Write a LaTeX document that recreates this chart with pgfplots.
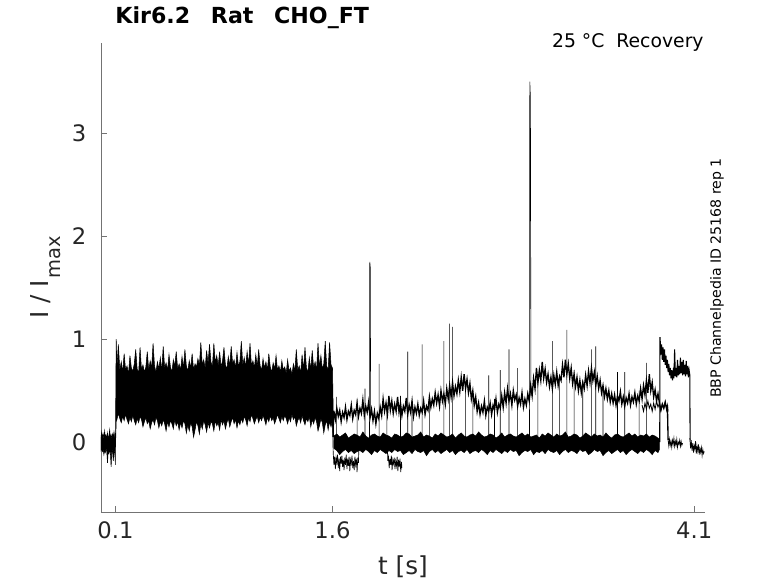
\documentclass[border=0pt]{standalone}
\usepackage{pgfplots}
\pgfplotsset{compat=1.18}
\usepackage{fontspec}
\setmainfont{DejaVu Sans}
\definecolor{axgray}{gray}{0.45}
\definecolor{tickgray}{gray}{0.15}
\begin{document}
\begin{tikzpicture}
\begin{axis}[
  name=ax, at={(0,0)}, anchor=south west,
  scale only axis, width=453pt, height=351.75pt,
  xmin=0, xmax=4.175, ymin=-0.677, ymax=3.874,
  axis lines=left, axis line style={-, draw=axgray, line width=0.6pt},
  tick align=inside, major tick length=4.7pt,
  tick style={draw=axgray, line width=0.6pt},
  xtick={0.1,1.6,4.1}, xticklabels={0.1,1.6,4.1},
  ytick={0,1,2,3}, yticklabels={0,1,2,3},
  ticklabel style={font=\fontsize{17}{17}\selectfont, text=tickgray},
  xticklabel style={yshift=-4pt},
  yticklabel style={xshift=-7.5pt},
  xlabel={t [s]},
  ylabel={I / I\kern1.5pt\raisebox{-9.5pt}{\fontsize{14.6}{14.6}\selectfont max}},
  xlabel style={at={(axis description cs:0.5,-0.1343)}, anchor=base, font=\fontsize{18.5}{18.5}\selectfont, text=tickgray},
  ylabel style={at={(axis description cs:-0.0877,0.5)}, anchor=base, font=\fontsize{18.5}{18.5}\selectfont, text=tickgray},
  title={Kir6.2\hspace{15.5pt}Rat\hspace{15.5pt}CHO\_FT},
  title style={at={(axis description cs:0.0161,1.0245)}, anchor=base west, font=\bfseries\fontsize{16.6}{16.6}\selectfont},
  clip mode=individual,
  unbounded coords=jump,
]
% pre-pulse baseline
\addplot[fill=black, draw=black, line width=0.4pt] coordinates {
(0.000,0.05)(0.005,0.10)(0.010,0.04)(0.015,0.08)(0.020,0.03)(0.025,0.11)(0.030,0.05)(0.035,0.07)(0.040,0.02)(0.045,0.09)(0.050,0.04)(0.055,0.06)(0.060,0.12)(0.065,0.04)(0.070,0.07)(0.075,0.03)(0.080,0.08)(0.085,0.05)(0.090,0.10)(0.095,0.04)(0.100,0.06)
(0.100,-0.22)(0.095,-0.10)(0.090,-0.08)(0.085,-0.18)(0.080,-0.09)(0.075,-0.07)(0.070,-0.24)(0.065,-0.10)(0.060,-0.08)(0.055,-0.11)(0.050,-0.07)(0.045,-0.20)(0.040,-0.09)(0.035,-0.06)(0.030,-0.10)(0.025,-0.08)(0.020,-0.12)(0.015,-0.07)(0.010,-0.09)(0.005,-0.06)(0.000,-0.08)
} -- cycle;
% open band 0.1 - 1.6 s
\addplot[fill=black, draw=black, line width=0.4pt] coordinates {
(0.100,0.02)(0.105,1.00)(0.11,0.72)(0.12,0.95)(0.13,0.70)(0.14,0.78)(0.15,0.68)(0.16,0.86)(0.17,0.70)(0.18,0.74)(0.19,0.66)(0.20,0.84)
(0.21,0.72)(0.22,0.69)(0.23,0.76)(0.24,0.90)(0.25,0.71)(0.26,0.67)(0.27,0.92)(0.28,0.70)(0.29,0.75)(0.30,0.68)
(0.31,0.73)(0.32,0.88)(0.33,0.70)(0.34,0.79)(0.35,0.72)(0.36,0.96)(0.37,0.74)(0.38,0.68)(0.39,0.78)(0.40,0.71)
(0.41,0.82)(0.42,0.69)(0.43,0.93)(0.44,0.72)(0.45,0.77)(0.46,0.70)(0.47,0.85)(0.48,0.73)(0.49,0.68)(0.50,0.80)
(0.51,0.74)(0.52,0.88)(0.53,0.71)(0.54,0.76)(0.55,0.70)(0.56,0.83)(0.57,0.72)(0.58,0.90)(0.59,0.74)(0.60,0.69)
(0.61,0.79)(0.62,0.72)(0.63,0.86)(0.64,0.70)(0.65,0.76)(0.66,0.73)(0.67,0.81)(0.68,0.74)(0.69,0.97)(0.70,0.75)
(0.71,0.80)(0.72,0.72)(0.73,0.89)(0.74,0.76)(0.75,0.95)(0.76,0.78)(0.77,0.73)(0.78,0.96)(0.79,0.77)(0.80,0.84)
(0.81,0.74)(0.82,0.88)(0.83,0.73)(0.84,0.79)(0.85,0.92)(0.86,0.75)(0.87,0.71)(0.88,0.83)(0.89,0.74)(0.90,0.93)
(0.91,0.76)(0.92,0.80)(0.93,0.72)(0.94,0.87)(0.95,0.74)(0.96,0.78)(0.97,0.98)(0.98,0.75)(0.99,0.82)(1.00,0.73)
(1.01,0.88)(1.02,0.75)(1.03,0.96)(1.04,0.74)(1.05,0.79)(1.06,0.72)(1.07,0.85)(1.08,0.73)(1.09,0.90)(1.10,0.74)
(1.11,0.70)(1.12,0.81)(1.13,0.72)(1.14,0.78)(1.15,0.70)(1.16,0.86)(1.17,0.73)(1.18,0.68)(1.19,0.77)(1.20,0.71)
(1.21,0.84)(1.22,0.70)(1.23,0.74)(1.24,0.68)(1.25,0.79)(1.26,0.70)(1.27,0.73)(1.28,0.67)(1.29,0.80)(1.30,0.69)
(1.31,0.72)(1.32,0.66)(1.33,0.76)(1.34,0.69)(1.35,0.90)(1.36,0.70)(1.37,0.74)(1.38,0.67)(1.39,0.85)(1.40,0.70)
(1.41,0.92)(1.42,0.72)(1.43,0.68)(1.44,0.82)(1.45,0.70)(1.46,0.89)(1.47,0.72)(1.48,0.78)(1.49,0.70)(1.50,0.96)
(1.51,0.73)(1.52,0.84)(1.53,0.71)(1.54,0.76)(1.55,0.98)(1.56,0.74)(1.57,0.70)(1.58,0.97)(1.59,0.75)(1.60,0.72)
(1.605,0.30)(1.605,0.05)
(1.60,0.22)(1.59,0.15)(1.58,0.20)(1.57,0.12)(1.56,0.21)(1.55,0.17)(1.54,0.09)(1.53,0.19)(1.52,0.23)(1.51,0.16)
(1.50,0.11)(1.49,0.20)(1.48,0.24)(1.47,0.18)(1.46,0.22)(1.45,0.15)(1.44,0.25)(1.43,0.20)(1.42,0.23)(1.41,0.17)
(1.40,0.21)(1.39,0.26)(1.38,0.19)(1.37,0.24)(1.36,0.21)(1.35,0.16)(1.34,0.25)(1.33,0.22)(1.32,0.27)(1.31,0.20)
(1.30,0.24)(1.29,0.18)(1.28,0.23)(1.27,0.26)(1.26,0.21)(1.25,0.25)(1.24,0.19)(1.23,0.23)(1.22,0.27)(1.21,0.22)
(1.20,0.18)(1.19,0.24)(1.18,0.21)(1.17,0.26)(1.16,0.20)(1.15,0.24)(1.14,0.17)(1.13,0.22)(1.12,0.26)(1.11,0.21)
(1.10,0.24)(1.09,0.19)(1.08,0.25)(1.07,0.22)(1.06,0.18)(1.05,0.23)(1.04,0.27)(1.03,0.20)(1.02,0.24)(1.01,0.16)
(1.00,0.22)(0.99,0.25)(0.98,0.19)(0.97,0.23)(0.96,0.17)(0.95,0.21)(0.94,0.14)(0.93,0.22)(0.92,0.18)(0.91,0.24)
(0.90,0.20)(0.89,0.15)(0.88,0.23)(0.87,0.19)(0.86,0.13)(0.85,0.21)(0.84,0.17)(0.83,0.22)(0.82,0.12)(0.81,0.19)
(0.80,0.16)(0.79,0.21)(0.78,0.11)(0.77,0.18)(0.76,0.20)(0.75,0.14)(0.74,0.19)(0.73,0.10)(0.72,0.17)(0.71,0.21)
(0.70,0.13)(0.69,0.18)(0.68,0.08)(0.67,0.16)(0.66,0.20)(0.65,0.12)(0.64,0.05)(0.63,0.15)(0.62,0.19)(0.61,0.11)
(0.60,0.17)(0.59,0.09)(0.58,0.18)(0.57,0.21)(0.56,0.14)(0.55,0.19)(0.54,0.12)(0.53,0.20)(0.52,0.16)(0.51,0.22)
(0.50,0.13)(0.49,0.18)(0.48,0.21)(0.47,0.15)(0.46,0.20)(0.45,0.11)(0.44,0.18)(0.43,0.22)(0.42,0.16)(0.41,0.20)
(0.40,0.14)(0.39,0.21)(0.38,0.24)(0.37,0.17)(0.36,0.22)(0.35,0.19)(0.34,0.13)(0.33,0.21)(0.32,0.18)(0.31,0.24)
(0.30,0.20)(0.29,0.15)(0.28,0.22)(0.27,0.25)(0.26,0.19)(0.25,0.23)(0.24,0.17)(0.23,0.21)(0.22,0.26)(0.21,0.20)
(0.20,0.24)(0.19,0.18)(0.18,0.22)(0.17,0.27)(0.16,0.21)(0.15,0.25)(0.14,0.19)(0.13,0.23)(0.12,0.28)(0.11,0.22)
(0.105,0.20)(0.100,-0.05)
} -- cycle;
% closed baseline after 1.6 s
\addplot[fill=black, draw=black, line width=0.4pt] coordinates {
(1.61,0.06)(1.63,0.08)(1.65,0.05)(1.67,0.07)(1.69,0.09)(1.71,0.04)(1.73,0.06)(1.75,0.08)(1.77,0.07)(1.79,0.05)
(1.81,0.10)(1.83,0.06)(1.85,0.04)(1.87,0.07)(1.89,0.08)(1.91,0.06)(1.93,0.05)(1.95,0.09)(1.97,0.07)(1.99,0.06)
(2.01,0.04)(2.03,0.08)(2.05,0.07)(2.07,0.05)(2.09,0.06)(2.11,0.09)(2.13,0.08)(2.15,0.05)(2.17,0.06)(2.19,0.07)
(2.21,0.10)(2.23,0.05)(2.25,0.07)(2.27,0.06)(2.29,0.04)(2.31,0.08)(2.33,0.06)(2.35,0.09)(2.37,0.07)(2.39,0.05)
(2.41,0.06)(2.43,0.08)(2.45,0.04)(2.47,0.07)(2.49,0.09)(2.51,0.06)(2.53,0.05)(2.55,0.07)(2.57,0.08)(2.59,0.06)
(2.61,0.10)(2.63,0.07)(2.65,0.05)(2.67,0.06)(2.69,0.08)(2.71,0.07)(2.73,0.04)(2.75,0.06)(2.77,0.09)(2.79,0.05)
(2.81,0.07)(2.83,0.08)(2.85,0.06)(2.87,0.05)(2.89,0.07)(2.91,0.09)(2.93,0.06)(2.95,0.08)(2.97,0.05)(2.99,0.06)
(3.01,0.07)(3.03,0.04)(3.05,0.08)(3.07,0.06)(3.09,0.09)(3.11,0.07)(3.13,0.05)(3.15,0.08)(3.17,0.06)(3.19,0.07)
(3.21,0.10)(3.23,0.05)(3.25,0.06)(3.27,0.08)(3.29,0.07)(3.31,0.04)(3.33,0.06)(3.35,0.09)(3.37,0.07)(3.39,0.05)
(3.41,0.08)(3.43,0.06)(3.45,0.07)(3.47,0.05)(3.49,0.09)(3.51,0.06)(3.53,0.04)(3.55,0.07)(3.57,0.08)(3.59,0.06)
(3.61,0.05)(3.63,0.07)(3.65,0.09)(3.67,0.06)(3.69,0.08)(3.71,0.05)(3.73,0.07)(3.75,0.06)(3.77,0.08)(3.79,0.05)
(3.81,0.07)(3.83,0.06)(3.85,0.04)(3.86,0.03)
(3.86,-0.07)(3.85,-0.10)(3.83,-0.08)(3.81,-0.12)(3.79,-0.09)(3.77,-0.07)(3.75,-0.10)(3.73,-0.08)(3.71,-0.11)(3.69,-0.09)
(3.67,-0.07)(3.65,-0.09)(3.63,-0.12)(3.61,-0.08)(3.59,-0.10)(3.57,-0.07)(3.55,-0.09)(3.53,-0.11)(3.51,-0.08)(3.49,-0.10)
(3.47,-0.13)(3.45,-0.08)(3.43,-0.09)(3.41,-0.07)(3.39,-0.10)(3.37,-0.12)(3.35,-0.08)(3.33,-0.09)(3.31,-0.07)(3.29,-0.11)
(3.27,-0.09)(3.25,-0.08)(3.23,-0.10)(3.21,-0.07)(3.19,-0.09)(3.17,-0.12)(3.15,-0.08)(3.13,-0.10)(3.11,-0.09)(3.09,-0.07)
(3.07,-0.11)(3.05,-0.08)(3.03,-0.10)(3.01,-0.09)(2.99,-0.12)(2.97,-0.07)(2.95,-0.09)(2.93,-0.08)(2.91,-0.10)(2.89,-0.13)
(2.87,-0.08)(2.85,-0.09)(2.83,-0.07)(2.81,-0.10)(2.79,-0.08)(2.77,-0.11)(2.75,-0.09)(2.73,-0.07)(2.71,-0.10)(2.69,-0.08)
(2.67,-0.12)(2.65,-0.09)(2.63,-0.07)(2.61,-0.10)(2.59,-0.08)(2.57,-0.09)(2.55,-0.11)(2.53,-0.07)(2.51,-0.10)(2.49,-0.08)
(2.47,-0.09)(2.45,-0.12)(2.43,-0.08)(2.41,-0.10)(2.39,-0.07)(2.37,-0.09)(2.35,-0.11)(2.33,-0.08)(2.31,-0.10)(2.29,-0.07)
(2.27,-0.09)(2.25,-0.13)(2.23,-0.08)(2.21,-0.10)(2.19,-0.09)(2.17,-0.07)(2.15,-0.11)(2.13,-0.08)(2.11,-0.10)(2.09,-0.12)
(2.07,-0.08)(2.05,-0.09)(2.03,-0.07)(2.01,-0.10)(1.99,-0.08)(1.97,-0.11)(1.95,-0.09)(1.93,-0.07)(1.91,-0.10)(1.89,-0.08)
(1.87,-0.12)(1.85,-0.09)(1.83,-0.07)(1.81,-0.10)(1.79,-0.08)(1.77,-0.09)(1.75,-0.11)(1.73,-0.08)(1.71,-0.10)(1.69,-0.07)
(1.67,-0.09)(1.65,-0.12)(1.63,-0.08)(1.61,-0.06)
} -- cycle;
% lower closed pieces
\addplot[black, line width=0.5pt] coordinates {
(1.600,0.20)(1.605,-0.10)(1.610,-0.22)(1.615,-0.14)(1.620,-0.26)(1.625,-0.15)(1.630,-0.20)(1.635,-0.12)(1.640,-0.25)(1.645,-0.16)(1.650,-0.28)
(1.655,-0.14)(1.660,-0.21)(1.665,-0.13)(1.670,-0.24)(1.675,-0.17)(1.680,-0.27)(1.685,-0.15)(1.690,-0.22)(1.695,-0.12)(1.700,-0.26)
(1.705,-0.16)(1.710,-0.23)(1.715,-0.14)(1.720,-0.28)(1.725,-0.17)(1.730,-0.21)(1.735,-0.13)(1.740,-0.25)(1.745,-0.18)(1.750,-0.27)
(1.755,-0.14)(1.760,-0.22)(1.765,-0.16)(1.770,-0.29)(1.775,-0.15)(1.780,-0.20)(1.782,-0.05)
(1.782,nan)
(1.980,-0.06)(1.982,-0.18)(1.987,-0.14)(1.992,-0.25)(1.997,-0.16)(2.002,-0.22)(2.007,-0.13)(2.012,-0.27)(2.017,-0.17)(2.022,-0.21)
(2.027,-0.15)(2.032,-0.26)(2.037,-0.18)(2.042,-0.23)(2.047,-0.14)(2.052,-0.28)(2.057,-0.17)(2.062,-0.24)(2.067,-0.16)(2.072,-0.29)
(2.077,-0.19)(2.080,-0.25)
(2.080,nan)
(3.920,0.02)(3.925,-0.04)(3.930,0.03)(3.935,-0.03)(3.940,0.01)(3.945,-0.05)(3.950,0.02)(3.955,-0.02)(3.960,0.04)(3.965,-0.04)
(3.970,0.01)(3.975,-0.03)(3.980,0.03)(3.985,-0.05)(3.990,0.00)(3.995,-0.02)(4.000,0.02)(4.005,-0.04)(4.010,0.01)(4.015,-0.03)(4.020,-0.01)
(4.020,nan)
(4.070,0.04)(4.075,-0.06)(4.080,0.02)(4.085,-0.08)(4.090,-0.01)(4.095,-0.10)(4.100,-0.03)(4.105,-0.07)(4.110,0.01)(4.115,-0.11)
(4.120,-0.04)(4.125,-0.09)(4.130,-0.02)(4.135,-0.12)(4.140,-0.06)(4.145,-0.10)(4.150,-0.05)(4.155,-0.13)(4.160,-0.07)(4.165,-0.11)(4.170,-0.09)
};
% recovered (open) trace after 1.6 s
\addplot[black, line width=1.0pt] coordinates {
(1.605,0.05)(1.607,0.30)
(1.61,0.30)(1.62,0.22)(1.63,0.33)(1.64,0.25)(1.65,0.31)(1.66,0.20)(1.67,0.29)(1.68,0.24)(1.69,0.34)(1.70,0.22)
(1.71,0.30)(1.72,0.26)(1.73,0.36)(1.74,0.23)(1.75,0.31)(1.76,0.27)(1.77,0.38)(1.78,0.25)(1.79,0.33)(1.80,0.28)
(1.81,0.41)(1.82,0.26)(1.83,0.35)(1.84,0.29)(1.85,0.39)(1.86,0.24)(1.87,0.32)(1.88,0.21)(1.89,0.30)(1.90,0.18)
(1.91,0.28)(1.92,0.23)(1.93,0.34)(1.94,0.26)(1.95,0.42)(1.96,0.30)(1.97,0.38)(1.98,0.27)(1.99,0.45)(2.00,0.31)
(2.01,0.40)(2.02,0.28)(2.03,0.37)(2.04,0.30)(2.05,0.44)(2.06,0.29)(2.07,0.38)(2.08,0.26)(2.09,0.35)(2.10,0.30)
(2.11,0.43)(2.12,0.27)(2.13,0.36)(2.14,0.29)(2.15,0.40)(2.16,0.25)(2.17,0.34)(2.18,0.28)(2.19,0.37)(2.20,0.26)
(2.21,0.33)(2.22,0.29)(2.23,0.40)(2.24,0.27)(2.25,0.35)(2.26,0.31)(2.27,0.44)(2.28,0.34)(2.29,0.42)(2.30,0.36)
(2.31,0.48)(2.32,0.38)(2.33,0.46)(2.34,0.35)(2.35,0.50)(2.36,0.40)(2.37,0.47)(2.38,0.37)(2.39,0.52)(2.40,0.42)
(2.41,0.55)(2.42,0.44)(2.43,0.58)(2.44,0.45)(2.45,0.54)(2.46,0.47)(2.47,0.60)(2.48,0.49)(2.49,0.63)(2.50,0.50)
(2.51,0.66)(2.52,0.52)(2.53,0.61)(2.54,0.48)(2.55,0.57)(2.56,0.42)(2.57,0.50)(2.58,0.36)(2.59,0.44)(2.60,0.30)
(2.61,0.38)(2.62,0.27)(2.63,0.35)(2.64,0.29)(2.65,0.40)(2.66,0.26)(2.67,0.34)(2.68,0.30)(2.69,0.38)(2.70,0.27)
(2.71,0.36)(2.72,0.31)(2.73,0.42)(2.74,0.29)(2.75,0.37)(2.76,0.33)(2.77,0.45)(2.78,0.34)(2.79,0.48)(2.80,0.38)
(2.81,0.52)(2.82,0.40)(2.83,0.47)(2.84,0.36)(2.85,0.50)(2.86,0.41)(2.87,0.46)(2.88,0.35)(2.89,0.43)(2.90,0.37)
(2.91,0.48)(2.92,0.34)(2.93,0.42)(2.94,0.36)(2.95,0.47)(2.96,0.40)(2.97,0.55)(2.98,0.45)(2.99,0.62)(3.00,0.52)
(3.01,0.72)(3.02,0.58)(3.03,0.70)(3.04,0.60)(3.05,0.78)(3.06,0.62)(3.07,0.71)(3.08,0.58)(3.09,0.66)(3.10,0.54)
(3.11,0.63)(3.12,0.52)(3.13,0.65)(3.14,0.56)(3.15,0.68)(3.16,0.55)(3.17,0.64)(3.18,0.60)(3.19,0.75)(3.20,0.63)
(3.21,0.80)(3.22,0.66)(3.23,0.76)(3.24,0.62)(3.25,0.72)(3.26,0.57)(3.27,0.66)(3.28,0.54)(3.29,0.63)(3.30,0.50)
(3.31,0.60)(3.32,0.48)(3.33,0.58)(3.34,0.52)(3.35,0.65)(3.36,0.55)(3.37,0.69)(3.38,0.58)(3.39,0.72)(3.40,0.60)
(3.41,0.68)(3.42,0.55)(3.43,0.64)(3.44,0.52)(3.45,0.60)(3.46,0.48)(3.47,0.55)(3.48,0.44)(3.49,0.52)(3.50,0.42)
(3.51,0.50)(3.52,0.39)(3.53,0.47)(3.54,0.38)(3.55,0.46)(3.56,0.36)(3.57,0.45)(3.58,0.40)(3.59,0.49)(3.60,0.37)
(3.61,0.44)(3.62,0.35)(3.63,0.43)(3.64,0.38)(3.65,0.47)(3.66,0.36)(3.67,0.44)(3.68,0.39)(3.69,0.48)(3.70,0.37)
(3.71,0.45)(3.72,0.40)(3.73,0.52)(3.74,0.42)(3.75,0.55)(3.76,0.46)(3.77,0.60)(3.78,0.48)(3.79,0.66)(3.80,0.50)
(3.81,0.58)(3.82,0.44)(3.83,0.51)(3.84,0.40)(3.85,0.47)(3.86,0.38)(3.87,0.31)(3.88,0.37)(3.89,0.33)(3.90,0.39)
(3.91,0.32)(3.915,0.36)(3.92,0.02)
};
% second recovered sweep near the end
\addplot[black, line width=0.6pt] coordinates {
(3.74,0.36)(3.75,0.30)(3.76,0.38)(3.77,0.32)(3.78,0.40)(3.79,0.33)(3.80,0.37)(3.81,0.30)(3.82,0.38)(3.83,0.32)
(3.84,0.40)(3.85,0.34)(3.86,0.38)(3.87,0.31)(3.88,0.37)(3.89,0.33)(3.90,0.39)(3.91,0.32)(3.915,0.36)(3.92,0.30)
};
% last sweep (high level)
\addplot[black, line width=0.8pt] coordinates {
(3.862,0.00)(3.864,1.02)(3.870,0.85)(3.875,0.95)(3.880,0.80)(3.885,0.92)(3.890,0.78)(3.895,0.90)(3.900,0.75)(3.905,0.84)
(3.910,0.72)(3.915,0.80)(3.920,0.68)(3.925,0.76)(3.930,0.65)(3.935,0.72)(3.940,0.62)(3.945,0.70)(3.950,0.60)(3.955,0.68)
(3.960,0.62)(3.965,0.90)(3.970,0.64)(3.975,0.72)(3.980,0.63)(3.985,0.80)(3.990,0.65)(3.995,0.74)(4.000,0.66)(4.005,0.82)
(4.010,0.67)(4.015,0.78)(4.020,0.65)(4.025,0.80)(4.030,0.66)(4.035,0.75)(4.040,0.64)(4.045,0.79)(4.050,0.66)(4.055,0.74)
(4.060,0.63)(4.065,0.70)(4.070,0.65)(4.072,0.02)
};
% transitions of the sweeps (closed -> open) and spikes
\addplot[black, line width=0.45pt] coordinates {
(1.627,-0.03)(1.627,0.44)(1.627,nan)
(1.770,-0.03)(1.770,0.42)(1.770,nan)
(1.825,-0.03)(1.825,0.52)(1.825,nan)
(1.856,-0.03)(1.858,1.75)(1.861,1.70)(1.864,0.30)(1.864,nan)
(1.922,-0.03)(1.922,0.76)(1.922,nan)
(1.976,-0.03)(1.976,0.38)(1.976,nan)
(2.070,-0.03)(2.070,0.45)(2.070,nan)
(2.120,-0.03)(2.120,0.88)(2.120,nan)
(2.150,-0.03)(2.150,0.40)(2.150,nan)
(2.220,-0.03)(2.220,0.95)(2.220,nan)
(2.270,-0.03)(2.270,0.45)(2.270,nan)
(2.370,-0.03)(2.370,0.98)(2.370,nan)
(2.410,-0.03)(2.410,1.15)(2.410,nan)
(2.430,-0.03)(2.430,1.12)(2.430,nan)
(2.520,-0.03)(2.520,0.50)(2.520,nan)
(2.570,-0.03)(2.570,0.45)(2.570,nan)
(2.680,-0.03)(2.680,0.65)(2.680,nan)
(2.720,-0.03)(2.720,0.42)(2.720,nan)
(2.760,-0.03)(2.760,0.70)(2.760,nan)
(2.820,-0.03)(2.820,0.90)(2.820,nan)
(2.880,-0.03)(2.880,0.72)(2.880,nan)
(2.962,-0.03)(2.964,3.50)(2.968,3.35)(2.972,0.45)(2.972,nan)
(3.020,-0.03)(3.020,0.65)(3.020,nan)
(3.120,-0.03)(3.120,0.98)(3.120,nan)
(3.170,-0.03)(3.170,0.65)(3.170,nan)
(3.220,-0.03)(3.220,1.09)(3.220,nan)
(3.270,-0.03)(3.270,0.70)(3.270,nan)
(3.330,-0.03)(3.330,0.60)(3.330,nan)
(3.390,-0.03)(3.390,0.90)(3.390,nan)
(3.420,-0.03)(3.420,0.93)(3.420,nan)
(3.470,-0.03)(3.470,0.55)(3.470,nan)
(3.570,-0.03)(3.570,0.68)(3.570,nan)
(3.620,-0.03)(3.620,0.68)(3.620,nan)
(3.720,-0.03)(3.720,0.50)(3.720,nan)
(3.770,-0.03)(3.770,0.77)(3.770,nan)
};
\end{axis}
\node[anchor=base east, font=\fontsize{14.1}{14.1}\selectfont] at (455.5pt,348pt) {25 °C\ \ Recovery};
\node[rotate=90, anchor=center, font=\fontsize{10.6}{10.6}\selectfont] at (462pt,175.5pt) {BBP Channelpedia ID 25168 rep 1};
\pgfresetboundingbox
\path[use as bounding box] (-75.75pt,-53.25pt) rectangle (507.75pt,384pt);
\end{tikzpicture}
\end{document}
